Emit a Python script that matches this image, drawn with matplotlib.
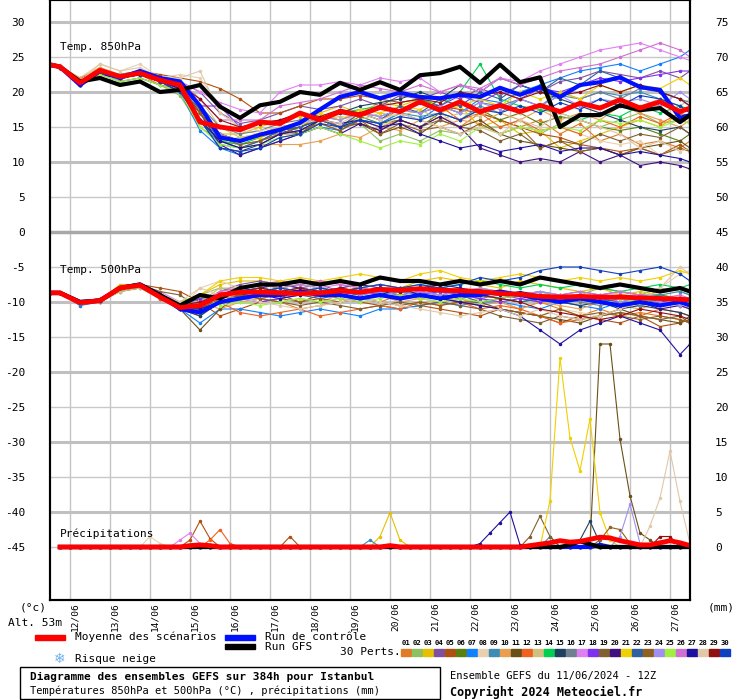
import numpy as np
import matplotlib
matplotlib.use("Agg")
import matplotlib.pyplot as plt
import matplotlib.transforms as mtransforms
from matplotlib.patches import Rectangle

W, H = 740, 700
FONT = "DejaVu Sans Mono"

# time axis (hours since 11/06 12Z), temperatures every 12h offset by 6h
HOURS_T = [0] + list(range(6, 384, 12)) + [384]
HOURS_P = list(range(6, 385, 6))
DATES = ["12/06", "13/06", "14/06", "15/06", "16/06", "17/06", "18/06", "19/06",
         "20/06", "21/06", "22/06", "23/06", "24/06", "25/06", "26/06", "27/06"]

MEMBER_COLORS = ["#e07b28", "#8dc060", "#e6c000", "#8050a0", "#b05010", "#5a8010",
                 "#1080ff", "#e8d0b0", "#3c8cb4", "#e8a050", "#6a5018", "#f06020",
                 "#d0c080", "#00d050", "#204060", "#708090", "#e080f0", "#8030f0",
                 "#806030", "#401080", "#f0d000", "#3060a0", "#906020", "#a090f0",
                 "#a0f040", "#d070d0", "#2010a0", "#e0c8a8", "#901010", "#1040c0"]

MEAN_850 = [23.9, 23.6, 21.3, 23.1, 22.2, 22.7, 21.7, 21.0, 15.7, 15.0, 14.6, 15.7, 15.5, 17.0, 16.0, 17.2, 16.7,
            17.8, 17.2, 18.6, 17.4, 18.6, 17.2, 18.1, 17.2, 18.1, 17.2, 18.4, 17.7, 18.9, 17.7, 18.6, 17.2, 17.7]
GFS_850 = [23.9, 23.6, 21.5, 22, 21, 21.5, 20, 20.3, 21, 17.9, 16.3, 18.1, 18.6, 20, 19.6, 21.3, 20.3,
           21.4, 20.3, 22.4, 22.7, 23.6, 21.3, 23.9, 21.4, 22.1, 15, 16.7, 16.7, 18.1, 17.4, 17.7, 15.7, 16.7]
CTRL_850 = [23.9, 23.6, 21, 23, 22, 23, 22, 21.5, 18, 13.5, 13, 13.9, 14.6, 15.6, 17.5, 19.3, 20,
            19.1, 19.9, 19.3, 19.1, 19.6, 19.3, 20.6, 19.6, 20.7, 19.3, 21, 21.4, 22.1, 20.7, 20.3, 16.3, 16.7]

MEMBERS_850 = [
    [23.9,23.5,21,22.5,22,22.5,21,20.5,16,13,12.5,13,14,14,15.5,14.5,16,15,16,15,16.5,15,17,16,15,16,14,15.5,13,14,12.5,13,12,13],
    [23.9,23.5,21.5,23,21.5,22,21,19.5,15,13,13.5,14,15,14.5,16,15,15.5,13,14,13,14.5,14,15,15,16,14,15.5,16,15,16,17,15.5,16,15.5],
    [23.9,23.6,21,23.5,22,23,22,21,17,14,14,15,16,16.5,17,18,17,18.5,18,19,17,18,15,16,14,14.5,12,13,14,15,16,15,17,16],
    [23.9,23.5,22,23,22.5,23,22,21.5,20,17,15.5,16,17,18,17.5,18,19,18,19.5,19,20,19,20.5,19.5,21,20,21.5,22,23,22.5,22,23,22,23],
    [23.9,23.6,21,23,22,23,22.5,22,21.5,20.5,19,17,17,18,19,19,19.5,19,18.5,19,18,17.5,17,16,15,14,13.5,12.5,12,11.5,12,11,12.5,11.5],
    [23.9,23.6,21.5,23.5,22,22.5,22,21,17,14,13,14,14.5,15,16,15,16.5,15.5,16,15,17,16,17.5,16,17,15.5,16.5,16,15,14.5,15,14,13,14],
    [23.9,23.5,21,23,22,23,21.5,20,14.5,12,11,12,13,14,15,14.5,16,15.5,17,16,18,17,19,18.5,20,21,22,23,23.5,24,23,24,25,26],
    [23.9,23.8,22,24,23,24,22,22.5,22,18,14.5,14,15,15.5,16,15,16,15,16.5,16,17,15,16,14,15,14.5,15,14,13,12.5,13,11,12,11.5],
    [23.9,23.5,21,22.5,21.5,22,21,20,16,12.5,12,13,14.5,14,16,15,16,15.5,17,16.5,17,16,18,17,19,18,20,19,20,19.5,20,19,18,17],
    [23.9,23.6,22,23.5,22.5,23,22,21,18,13,12,12.5,12.5,12.5,13,14,13.5,15,14.5,16,15,16,15.5,17,16,17.5,16,17,16,18,17,16,15,16],
    [23.9,23.6,21.5,23,22,22.5,21.5,20.5,17.5,14,13,14,15,14,16,15,15.5,14,15,14,16,15,16,14,13,12.5,12,11.5,12,11,12,12.5,13,12],
    [23.9,23.5,21,23,22,22.5,21.5,21,17,14,13,13.5,14.5,15,16.5,15,17,16,17.5,17,18,16,17,15,16,14.5,15,14,16,15,16.5,15.5,17,16.5],
    [23.9,23.6,21,23,22,23,22,21.5,19,15,13.5,14,15,15.5,16,16.5,16,17,16.5,17.5,16,17,16.5,18,17,18,17,18.5,18,19,18,19,18,19],
    [23.9,23.6,21.5,23,22.5,23,22,20.5,16,13,12.5,13.5,15,15.5,16,17,17.5,18,17,19,18,20,24,19,18,17.5,17,16,17,16.5,18,17,18,17.5],
    [23.9,23.5,21,22.5,22,22.5,21.5,20,16,12,11.5,12.5,14,15,16,17,18,18.5,19,20,19,21,20,22,21,20,19,18,17,16,15,14.5,15,14],
    [23.9,23.6,21.5,23,22,22.5,22,21,18,15,14,14.5,15.5,16,16.5,16,17,16.5,17.5,17,18,17,18.5,18,19,18,19.5,19,20,19,20.5,20,19,18.5],
    [23.9,23.6,21,23,22,23,22,21.5,20,18.5,17.5,17,20,21,21,21.5,21,22,21.5,22,20,21,20,22,21.5,23,24,25,26,26.5,27,26,25,24.5],
    [23.9,23.5,21,23,22,22.5,21.5,20.5,18,18,15,15.5,16,17,16,17.5,17,18,17,18.5,18,19.5,18.5,20,19,20.5,20,21,22,21.5,22,22.5,23,23],
    [23.9,23.6,21.5,23,22,22.5,21.5,21,17,14,13,14,14,15,16,15,15.5,14.5,16,15,16,15,14.5,13,14,12,13,12.5,14,13,14,13.5,15,14],
    [23.9,23.6,21,22.5,22,22.5,21.5,20.5,17,12.5,11,12,13,14,15,14,15.5,14.5,16,15,16.5,15,12,11,10,10.5,10,11.5,10,11,9.5,10,9.5,9],
    [23.9,23.6,21.5,23,22,23,21.5,21,17,13.5,13,13.5,15,15.5,17,16,17.5,17,18,17.5,19,18,19,18,20,19,20,19,21,20,21,20.5,22,21],
    [23.9,23.5,21,23,22,23,22,21,17,13,12,13,14.5,15,16,15,17,16,18,17,19,18,20,19,21,20,22,21,23,22,21,20,19,18],
    [23.9,23.6,21,23,22,22.5,21.5,20.5,17,13.5,12.5,13,14,14.5,15.5,14.5,16,14,15.5,14.5,15,14,15.5,14,15,12,13,11.5,12,11,12,11,12,11.5],
    [23.9,23.6,21.5,23,22.5,23,22,21,18,14,13,14,15,15.5,16.5,16,17,16.5,17.5,17,18,17,18.5,17.5,19,18,19.5,18,19,18.5,19,18,20,19],
    [23.9,23.5,21,22.5,21.5,22,21,20,15,12.5,12,12.5,13.5,14,15,14,13,12,13,12.5,14,13,15,14,15,14.5,15,14.5,16,15.5,16,15,16,15.5],
    [23.9,23.6,21.5,23,22,23,22,21.5,19,16,16,16,18,18.5,19,20,21,20.5,20,21,20,21,20.5,22,21,22,23,23.5,24,25,26,27,26,25],
    [23.9,23.5,21,23,22,22.5,21.5,20.5,16,13,12,12.5,14,14.5,16,15.5,16,15,15.5,14,13,12,12.5,11.5,12,12.5,11.5,12,12,11,11.5,11,10.5,10],
    [23.9,23.8,21.5,24,23,23.5,22,22,23,17,15,14.5,15,15.5,16,15.5,17,16,17,16,15,14,15,14,16,15,17,16,15,14,12,13,11.5,12],
    [23.9,23.6,21,23,22,22.5,21.5,21,19,16,15,15.5,16,17,16.5,17.5,17,18,18.5,19,18.5,20,19.5,20,19,20,19.5,20,21,20,21,20,19,18],
    [23.9,23.5,21,23,22,22.5,21.5,20,16,12,11.5,12,13.5,14,15.5,15,16,15.5,16.5,16,17,16,17.5,17,18,17,18.5,17.5,19,18,19.5,19,18,17],
]

MEAN_500 = [-8.7, -8.7, -10.1, -9.8, -8, -7.6, -9.3, -10.8, -10.5, -9, -8.6, -8.6, -8.7, -8.8, -8.7, -8.4, -8.6,
            -8.2, -8.3, -8.1, -8.3, -8.4, -8.5, -8.8, -8.9, -9.2, -9.3, -9.2, -9.3, -9.3, -9.4, -9.5, -9.6, -9.7]
GFS_500 = [-8.7, -8.7, -10, -9.8, -8, -7.5, -9, -10.5, -9, -9.5, -8, -7.5, -7.5, -7, -7.5, -7, -7.5,
           -6.5, -7, -7, -7.5, -7, -7.5, -7, -7.5, -6.5, -7, -7.5, -8, -7.5, -8, -8.5, -8, -8.5]
CTRL_500 = [-8.7, -8.7, -10, -9.8, -8, -7.5, -9, -11, -11.5, -10, -9.5, -9, -9, -8.5, -9, -9, -9.5,
            -9, -9.5, -9, -9.5, -9, -9, -8.5, -9, -9.5, -10, -9.5, -10, -10.5, -10, -10.5, -10, -10.5]

MEMBERS_500 = [
    [-8.7,-8.7,-10,-9.5,-8,-7.5,-9,-11,-12,-10,-9,-9.5,-10,-11,-10.5,-10,-9.5,-10,-9,-9.5,-9,-10,-9.5,-10,-11,-10,-11,-12,-11,-12,-11.5,-12,-12.5,-13],
    [-8.7,-8.5,-10,-10,-8.5,-8,-9.5,-10,-9,-8,-8.5,-8,-8.5,-8,-9,-8.5,-9,-8,-8.5,-8,-8.5,-9,-8,-8.5,-9,-8.5,-9.5,-9,-8,-8.5,-9,-8,-8.5,-9],
    [-8.7,-8.7,-10.5,-9.8,-7.5,-7.5,-9,-11,-9,-7.5,-7,-7,-7.5,-7,-7.5,-7,-8,-7.5,-8,-7,-6.5,-7,-7.5,-8,-7,-7.5,-8,-8.5,-8,-9,-8.5,-9,-9.5,-10],
    [-8.7,-8.7,-10,-9.5,-8,-7.5,-9.5,-10.5,-10,-8.5,-7.5,-7,-7.5,-8,-7.5,-8.5,-8,-9,-8.5,-9,-8,-8.5,-9,-9.5,-9,-10,-9,-9.5,-10,-9,-10,-9.5,-10,-9.5],
    [-8.7,-8.7,-10,-10,-8,-7.5,-8,-8.5,-10,-12,-11,-10,-9.5,-10,-9,-9.5,-10,-10.5,-11,-10.5,-11,-11.5,-12,-11,-11.5,-12,-13,-12,-12.5,-13,-12,-13.5,-13,-12.5],
    [-8.7,-8.7,-10,-9.8,-8.5,-8,-9,-10.5,-11,-9,-8.5,-8,-8.5,-8,-9,-8.5,-9,-8.5,-9,-9.5,-9,-8.5,-9,-9.5,-10,-9.5,-10,-9,-9.5,-10,-9.5,-9,-9.5,-10],
    [-8.7,-8.7,-10.5,-10,-8,-7.5,-9,-11,-13,-11,-11,-11.5,-12,-11.5,-11,-11.5,-12,-11,-11,-10.5,-10,-10.5,-10,-10,-10.5,-11,-10,-10.5,-11,-10,-10.5,-9.5,-10,-10.5],
    [-8.7,-8.7,-10,-9.8,-8,-7.5,-9.5,-11,-8,-7,-8,-9,-8,-8.5,-9,-8.5,-8,-8.5,-9,-9.5,-9,-10,-9.5,-10,-11,-12,-11,-11.5,-12,-11,-10,-8,-6,-5.5],
    [-8.7,-8.7,-10,-10,-8,-7.5,-9,-11,-11.5,-10,-9,-8.5,-8,-8.5,-8,-8.5,-9,-8.5,-8,-8.5,-9,-8.5,-9,-9.5,-9,-8.5,-9,-8.5,-9,-8.5,-9,-9,-8.5,-9],
    [-8.7,-8.5,-10,-9.5,-8,-7.8,-9,-10.5,-10,-11,-10,-9.5,-10,-9.5,-10,-9,-9.5,-9,-10,-9.5,-10,-9.5,-10.5,-10,-11,-10,-10.5,-11,-10,-10.5,-11,-10,-10.5,-11],
    [-8.7,-8.7,-10,-9.8,-8,-7.5,-9,-11,-14,-11,-9,-8.5,-8,-8.5,-8,-8.5,-9,-8,-8.5,-9,-9.5,-10,-10,-11,-11.5,-12,-12.5,-13,-12,-11,-12,-12.5,-13,-12],
    [-8.7,-8.7,-10,-9.8,-8,-7.5,-9.5,-10.5,-10,-10,-11.5,-12,-11.5,-11,-12,-11.5,-11,-10.5,-11,-10,-10.5,-10,-11,-10.5,-11,-12,-13,-12.5,-12,-11.5,-12,-11,-11.5,-12],
    [-8.7,-8.7,-10,-10,-8.5,-8,-9,-10.5,-10,-8,-8,-7.5,-8,-8.5,-8,-8.5,-8,-9,-8.5,-8,-8.5,-8,-9,-8.5,-9,-9.5,-9,-10,-9.5,-10,-9.5,-10,-10.5,-11],
    [-8.7,-8.7,-10,-9.8,-8,-7.5,-9,-10.5,-9.5,-9,-8,-7.5,-8,-7.5,-8,-8.5,-8,-7.5,-8,-7.5,-8,-7.5,-7,-7.5,-8,-7.5,-8,-7.5,-8,-8.5,-8,-7.5,-8,-7.5],
    [-8.7,-8.7,-10,-9.8,-8,-7.5,-9,-11,-12,-10,-9,-8.5,-9,-8.5,-9,-8.5,-8,-8.5,-9,-8.5,-9,-9.5,-9,-8.5,-9,-9.5,-10,-10.5,-10,-11,-10.5,-11,-11.5,-12],
    [-8.7,-8.7,-10,-9.8,-8,-7.5,-9,-11,-11,-9.5,-8.5,-8,-8.5,-9,-8.5,-8,-8.5,-9,-8.5,-9,-8.5,-9,-9.5,-9,-9.5,-10,-9.5,-10,-10.5,-10,-10.5,-10,-9.5,-10],
    [-8.7,-8.7,-10,-9.8,-8,-7.8,-8.5,-10,-10.5,-8.5,-8,-7.5,-7,-7.5,-8,-7.5,-8,-8.5,-8,-8.5,-9,-8.5,-9,-8.5,-9,-8.5,-9,-9.5,-9,-8.5,-9,-9.5,-10,-9.5],
    [-8.7,-8.7,-10,-9.8,-8,-7.5,-9,-10.5,-9.5,-9,-9.5,-10,-9.5,-9,-8.5,-9,-8.5,-9,-9.5,-9,-8.5,-9,-9.5,-10,-9.5,-10,-9.5,-9,-9.5,-10,-9.5,-10,-9.5,-10],
    [-8.7,-8.7,-10,-9.8,-8,-7.5,-8.5,-9,-11,-10,-9,-9.5,-10,-10.5,-10,-10.5,-11,-10.5,-10,-10.5,-10,-10.5,-11,-12,-12.5,-13,-12,-12.5,-12,-11.5,-12,-12.5,-12,-13],
    [-8.7,-8.7,-10,-9.8,-8,-7.5,-9,-11,-10.5,-9,-8.5,-8,-7.5,-8,-8.5,-8,-7.5,-8,-8.5,-8,-7.5,-8,-8.5,-9,-8.5,-9,-10,-9.5,-10,-10.5,-10,-11,-10.5,-11],
    [-8.7,-8.7,-10,-9.8,-8,-7.5,-9,-10.5,-9,-7,-6.5,-6.5,-7,-6.5,-7,-6.5,-6,-6.5,-7,-6,-5.5,-6.5,-7,-6.5,-6,-6.5,-7,-6.5,-7,-6.5,-7,-6.5,-5.5,-6],
    [-8.7,-8.7,-10,-9.8,-8,-7.5,-9,-10.5,-10,-9,-8.5,-9,-8.5,-9,-9.5,-9,-9.5,-9,-9.5,-9,-9.5,-9,-10,-9.5,-10,-9.5,-10,-9.5,-10,-9.5,-10,-9.5,-10,-9.5],
    [-8.7,-8.7,-10,-9.8,-8,-7.5,-9,-10.5,-11,-9.5,-9,-9.5,-9,-10,-9.5,-10,-9.5,-10,-10.5,-10,-10.5,-10,-10.5,-11,-11.5,-12,-11,-12,-11.5,-12,-12.5,-12,-12.5,-13],
    [-8.7,-8.7,-10,-9.8,-8,-7.5,-9,-10.5,-10,-9,-8.5,-8,-8.5,-8,-8.5,-8,-9,-8.5,-9,-8.5,-9,-8.5,-8,-8.5,-9,-8.5,-9,-9.5,-9,-10,-9.5,-10,-10.5,-10],
    [-8.7,-8.7,-10,-9.8,-8,-7.5,-9,-10,-9,-10.5,-10,-10.5,-10,-9.5,-10,-9.5,-10,-9.5,-9,-9.5,-10,-9.5,-10,-9.5,-9,-9.5,-10,-9.5,-9,-9.5,-10,-9.5,-10,-9.5],
    [-8.7,-8.7,-10,-9.8,-8,-7.5,-9,-10.5,-10,-8.5,-8,-7.5,-8,-7.5,-7,-7.5,-8,-7.5,-8,-8.5,-8,-8.5,-9,-8.5,-9,-9.5,-9,-8.5,-9,-8.5,-9,-9.5,-9,-9.5],
    [-8.7,-8.7,-10,-9.8,-8,-7.5,-9,-11,-11,-10,-9.5,-9,-9.5,-9,-8.5,-9,-9.5,-9,-8,-9,-9.5,-10,-10.5,-11,-12,-14,-16,-14,-13,-12,-13,-14,-17.5,-16],
    [-8.7,-8.7,-10,-9.8,-8,-7.5,-9,-10,-8,-9,-9.5,-10,-10.5,-11,-10.5,-10,-9.5,-10,-10.5,-11,-11.5,-12,-11.5,-11,-12,-11,-12,-12.5,-12,-11,-10,-8,-5,-6],
    [-8.7,-8.7,-10,-9.8,-8,-7.5,-9,-10.5,-10,-9,-8.5,-8,-8.5,-8,-8.5,-8,-8.5,-8,-8.5,-8,-8,-8.5,-9,-9.5,-10,-11,-11.5,-12,-12.5,-12,-11,-11.5,-12,-12.5],
    [-8.7,-8.7,-10,-9.8,-8,-7.5,-9,-10.5,-10.5,-9,-8,-8.5,-8,-8.5,-8,-8.5,-8,-7.5,-8,-7.5,-8,-7.5,-6.5,-7,-6.5,-5.5,-5,-5,-5.5,-6,-5.5,-5,-6,-7],
]

# precipitation (mm), only non-zero 6h values: member index -> {hour: mm}
PRECIP_MEMBERS = {
    2: {198: 1.5, 204: 4.9, 210: 1.0},
    4: {84: 1.0, 90: 3.7, 96: 1.2, 144: 1.5},
    10: {324: 0.5, 330: 29.0, 336: 29.0, 342: 15.4, 348: 7.3, 354: 2.0, 360: 1.0},
    20: {300: 6.6, 306: 27.0, 312: 15.6, 318: 10.9, 324: 18.3, 330: 4.9, 336: 1.0},
    27: {360: 3.0, 366: 7.0, 372: 13.7, 378: 6.5, 384: 0.5},
    26: {258: 0.5, 264: 2.0, 270: 3.5, 276: 5.0, 282: 0.3},
    23: {342: 1.5, 348: 6.1, 354: 0.5},
    18: {288: 1.5, 294: 4.4, 300: 1.5},
    14: {318: 1.0, 324: 3.7, 330: 0.5},
    22: {330: 1.0, 336: 2.8, 342: 2.5, 348: 0.5},
    28: {366: 1.5, 372: 1.5},
    16: {78: 1.0, 84: 2.0, 90: 0.5},
    7: {60: 1.5, 66: 0.5},
    11: {96: 1.0, 102: 2.5, 108: 0.5},
    8: {192: 1.0, 300: 1.5},
}
PRECIP_MEAN = {84: 0.2, 90: 0.3, 96: 0.2, 204: 0.2, 288: 0.2, 294: 0.4, 300: 0.6, 306: 0.9,
               312: 0.7, 318: 0.8, 324: 1.1, 330: 1.4, 336: 1.3, 342: 0.9, 348: 0.6, 354: 0.3,
               360: 0.3, 366: 0.6, 372: 0.9, 378: 0.6, 384: 0.2}
PRECIP_GFS = {312: 0.3, 318: 0.8, 324: 0.4}
PRECIP_CTRL = {330: 0.3}

Y_TICKS = [30, 25, 20, 15, 10, 5, 0, -5, -10, -15, -20, -25, -30, -35, -40, -45]


def px(x, y):
    return x / W, 1 - y / H


def days(hours):
    return np.array(hours) / 24.0


def precip_series(events):
    return np.array([events.get(h, 0.0) for h in HOURS_P]) - 45


plt.rcParams["font.family"] = FONT
fig = plt.figure(figsize=(W / 100, H / 100), dpi=100)
l, b = px(50, 600)
ax = fig.add_axes([l, b, 640 / W, 600 / H])
ax.set_xlim(0, 16)
ax.set_ylim((232 - 600) / 7, 232 / 7)

# grid
for d in np.arange(0.5, 16, 1):
    ax.axvline(d, color="#c4c4c4", lw=1, zorder=0)
for v in range(-45, 31, 5):
    if v == 0:
        ax.axhline(v, color="#a8a8a8", lw=2.5, zorder=0)
    elif v % 10 == 0:
        ax.axhline(v, color="#c0c0c0", lw=2.2, zorder=0)
    else:
        ax.axhline(v, color="#c8c8c8", lw=1, zorder=0)

xt = days(HOURS_T)
xp = days(HOURS_P)
for i, c in enumerate(MEMBER_COLORS):
    ax.plot(xt, MEMBERS_850[i], "-", color=c, lw=0.8, marker=".", ms=3, zorder=2)
    ax.plot(xt, MEMBERS_500[i], "-", color=c, lw=0.8, marker=".", ms=3, zorder=2)
    ax.plot(xp, precip_series(PRECIP_MEMBERS.get(i, {})), "-", color=c, lw=0.8,
            marker=".", ms=3, zorder=2)

for series, pr, col, lw in [((CTRL_850, CTRL_500), PRECIP_CTRL, "#0010ff", 3),
                            ((GFS_850, GFS_500), PRECIP_GFS, "#000000", 3),
                            ((MEAN_850, MEAN_500), PRECIP_MEAN, "#ff0000", 3.5)]:
    ax.plot(xt, series[0], color=col, lw=lw, zorder=4)
    ax.plot(xt, series[1], color=col, lw=lw, zorder=4)
    ax.plot(xp, precip_series(pr), color=col, lw=lw, zorder=4)

ax.set_yticks(Y_TICKS)
ax.set_yticklabels([str(v) for v in Y_TICKS], fontsize=8)
ax.tick_params(axis="y", length=0, pad=18)
ax.set_xticks([])
axr = ax.twinx()
axr.set_ylim(ax.get_ylim())
axr.set_yticks(Y_TICKS)
axr.set_yticklabels([str(v + 45) for v in Y_TICKS], fontsize=8)
axr.tick_params(axis="y", length=0, pad=18)
for a in (ax, axr):
    for s in a.spines.values():
        s.set_linewidth(1.5)

fig.text(*px(60, 47), "Temp. 850hPa", fontsize=8, va="center")
fig.text(*px(60, 270), "Temp. 500hPa", fontsize=8, va="center")
fig.text(*px(60, 534), "Précipitations", fontsize=8, va="center")

# date labels below the plot
off = mtransforms.offset_copy(ax.get_xaxis_transform(), fig=fig, x=5, y=-2, units="dots")
for d, lab in zip(np.arange(0.5, 16, 1), DATES):
    ax.text(d, 0, lab, transform=off, rotation=90, ha="center", va="top", fontsize=6.8)

fig.text(*px(20, 607), "(°c)", fontsize=8, va="center")
fig.text(*px(8, 623), "Alt. 53m", fontsize=8, va="center")
fig.text(*px(708, 607), "(mm)", fontsize=8, va="center")

# legend
fig.add_artist(Rectangle(px(35, 640), 30 / W, 5 / H, color="#ff0000", transform=fig.transFigure))
fig.text(*px(75, 637), "Moyenne des scénarios", fontsize=8, va="center")
fig.add_artist(Rectangle(px(225, 640), 30 / W, 5 / H, color="#0010ff", transform=fig.transFigure))
fig.text(*px(265, 637), "Run de contrôle", fontsize=8, va="center")
fig.add_artist(Rectangle(px(225, 649), 30 / W, 5 / H, color="#000000", transform=fig.transFigure))
fig.text(*px(265, 647), "Run GFS", fontsize=8, va="center")
fig.text(*px(60, 659), "\u2744", fontsize=10, color="#70b0f0", ha="center", va="center",
         family="DejaVu Sans")
fig.text(*px(75, 659), "Risque neige", fontsize=8, va="center")
fig.text(*px(340, 652), "30 Perts.", fontsize=8, va="center")
for i, c in enumerate(MEMBER_COLORS):
    x0 = 401 + 11 * i
    fig.text(*px(x0 + 5, 643), "%02d" % (i + 1), fontsize=5.2, ha="center", va="center",
             fontweight="bold")
    fig.add_artist(Rectangle(px(x0, 656), 10 / W, 7 / H, color=c, transform=fig.transFigure))

fig.add_artist(Rectangle(px(20, 699), 420 / W, 32 / H, fill=False, ec="black", lw=1,
                         transform=fig.transFigure))
fig.text(*px(30, 677), "Diagramme des ensembles GEFS sur 384h pour Istanbul", fontsize=8,
         fontweight="bold", va="center")
fig.text(*px(30, 691), "Températures 850hPa et 500hPa (°C) , précipitations (mm)", fontsize=7.5,
         va="center")
fig.text(*px(450, 676), "Ensemble GEFS du 11/06/2024 - 12Z", fontsize=7.5, va="center")
fig.text(*px(450, 692), "Copyright 2024 Meteociel.fr", fontsize=8.5, fontweight="bold", va="center")

fig.savefig("out.png", dpi=100, facecolor="white")
